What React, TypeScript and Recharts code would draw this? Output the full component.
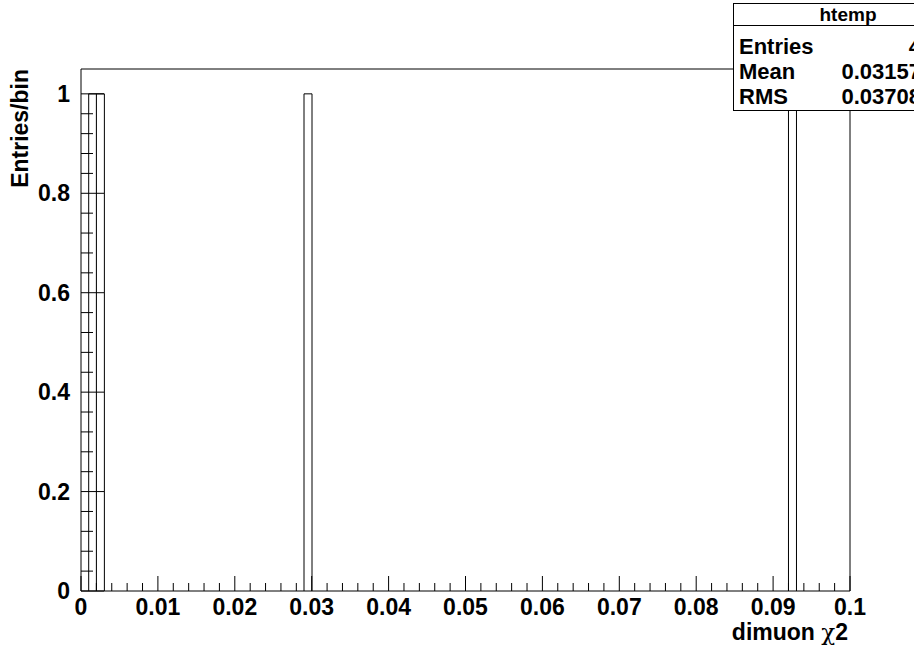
import React from 'react';
import { ComposedChart, Bar, XAxis, YAxis, ReferenceArea } from 'recharts';

// histogram: 100 bins from 0 to 0.1, only four bins hold an entry
const BIN_COUNT = 100;
const X_MIN = 0;
const X_MAX = 0.1;
const FILLED_BINS = [1, 2, 29, 92];
const FILLED_COUNTS = [1, 1, 1, 1];

const X_MAJOR_TICKS = [0, 0.01, 0.02, 0.03, 0.04, 0.05, 0.06, 0.07, 0.08, 0.09, 0.1];
const X_TICK_LABELS = ['0', '0.01', '0.02', '0.03', '0.04', '0.05', '0.06', '0.07', '0.08', '0.09', '0.1'];
const Y_MAJOR_TICKS = [0, 0.2, 0.4, 0.6, 0.8, 1];
const Y_TICK_LABELS = ['0', '0.2', '0.4', '0.6', '0.8', '1'];
const Y_MAX = 1.05;

const STAT_LABELS = ['Entries', 'Mean', 'RMS'];
const STAT_VALUES = ['4', '0.03157', '0.03708'];

const FONT = '"Liberation Sans", Arial, Helvetica, sans-serif';

const binWidth = (X_MAX - X_MIN) / BIN_COUNT;
const data = Array.from({ length: BIN_COUNT }, (_, i) => {
    const k = FILLED_BINS.indexOf(i);
    return {
        bin: i,
        x: X_MIN + (i + 0.5) * binWidth,
        count: k >= 0 ? FILLED_COUNTS[k] : null,
    };
});

// minor ticks: 5 divisions between majors
const subdivide = (majors: number[], n: number) => {
    const out: number[] = [];
    for (let i = 0; i < majors.length - 1; i++) {
        const step = (majors[i + 1] - majors[i]) / n;
        for (let j = 0; j < n; j++) out.push(majors[i] + j * step);
    }
    out.push(majors[majors.length - 1]);
    return out;
};
const xTicks = subdivide(X_MAJOR_TICKS, 5);
const yTicks = subdivide(Y_MAJOR_TICKS, 5);

const majorIndex = (v: number, majors: number[]) =>
    majors.findIndex((m) => Math.abs(m - v) < 1e-9);

const XTick = (props: any) => {
    const { x, y, payload } = props;
    const idx = majorIndex(payload.value, X_MAJOR_TICKS);
    const len = idx >= 0 ? 15 : 8;
    return (
        <g>
            <line x1={x} x2={x} y1={y} y2={y - len} stroke="#000" strokeWidth={1} />
            {idx >= 0 && (
                <text x={x} y={y + 24} textAnchor="middle" fontFamily={FONT} fontWeight="bold" fontSize={23} fill="#000">
                    {X_TICK_LABELS[idx]}
                </text>
            )}
        </g>
    );
};

const YTick = (props: any) => {
    const { x, y, payload } = props;
    const idx = majorIndex(payload.value, Y_MAJOR_TICKS);
    const len = idx >= 0 ? 23 : 12;
    return (
        <g>
            <line x1={x} x2={x + len} y1={y} y2={y} stroke="#000" strokeWidth={1} />
            {idx >= 0 && (
                <text x={x - 11} y={y + 8} textAnchor="end" fontFamily={FONT} fontWeight="bold" fontSize={23} fill="#000">
                    {Y_TICK_LABELS[idx]}
                </text>
            )}
        </g>
    );
};

const App = () => {
    return (
        <div style={{ position: 'relative', width: 914, height: 649, overflow: 'hidden', background: '#fff' }}>
            <style>{'body{margin:0}'}</style>
            <ComposedChart
                width={914}
                height={649}
                data={data}
                margin={{ top: 69, right: 64, bottom: 0, left: 21 }}
                barCategoryGap={0}
                barGap={0}
            >
                <XAxis
                    xAxisId="num"
                    dataKey="x"
                    type="number"
                    domain={[X_MIN, X_MAX]}
                    allowDataOverflow
                    ticks={xTicks}
                    interval={0}
                    height={58}
                    tickSize={0}
                    tickMargin={0}
                    tickLine={false}
                    axisLine={false}
                    tick={<XTick />}
                />
                <XAxis xAxisId="bins" dataKey="bin" type="category" height={0} hide />
                <YAxis
                    type="number"
                    domain={[0, Y_MAX]}
                    allowDataOverflow
                    ticks={yTicks}
                    interval={0}
                    width={60}
                    tickSize={0}
                    tickMargin={0}
                    tickLine={false}
                    axisLine={false}
                    tick={<YTick />}
                />
                <Bar
                    xAxisId="bins"
                    dataKey="count"
                    fill="#fff"
                    stroke="#000"
                    strokeWidth={1}
                    isAnimationActive={false}
                />
                <ReferenceArea
                    xAxisId="num"
                    x1={X_MIN}
                    x2={X_MAX}
                    y1={0}
                    y2={Y_MAX}
                    fill="none"
                    fillOpacity={0}
                    stroke="#000"
                    strokeWidth={1}
                    ifOverflow="visible"
                />
            </ComposedChart>

            <svg width={914} height={649} style={{ position: 'absolute', left: 0, top: 0, pointerEvents: 'none' }}>
                <text
                    transform="translate(28 69) rotate(-90)"
                    textAnchor="end"
                    fontFamily={FONT}
                    fontWeight="bold"
                    fontSize={23}
                    fill="#000"
                >
                    Entries/bin
                </text>
                <text x={848} y={640} textAnchor="end" fontFamily={FONT} fontWeight="bold" fontSize={23} fill="#000">
                    dimuon <tspan fontWeight="normal" fontFamily="DejaVu Serif, serif">χ</tspan>2
                </text>

                {/* stats box, cut by the right edge as in the original */}
                <rect x={733.5} y={3.5} width={240} height={107} fill="#fff" stroke="#000" strokeWidth={1} />
                <line x1={733.5} x2={973.5} y1={25.5} y2={25.5} stroke="#000" />
                <text x={848} y={21} textAnchor="middle" fontFamily={FONT} fontWeight="bold" fontSize={19} fill="#000">
                    htemp
                </text>
                {STAT_LABELS.map((lab, i) => (
                    <g key={lab}>
                        <text x={739} y={54 + i * 25} fontFamily={FONT} fontWeight="bold" fontSize={22} fill="#000">
                            {lab}
                        </text>
                        <text x={921} y={54 + i * 25} textAnchor="end" fontFamily={FONT} fontWeight="bold" fontSize={22} fill="#000">
                            {STAT_VALUES[i]}
                        </text>
                    </g>
                ))}
            </svg>
        </div>
    );
};

export default App;
